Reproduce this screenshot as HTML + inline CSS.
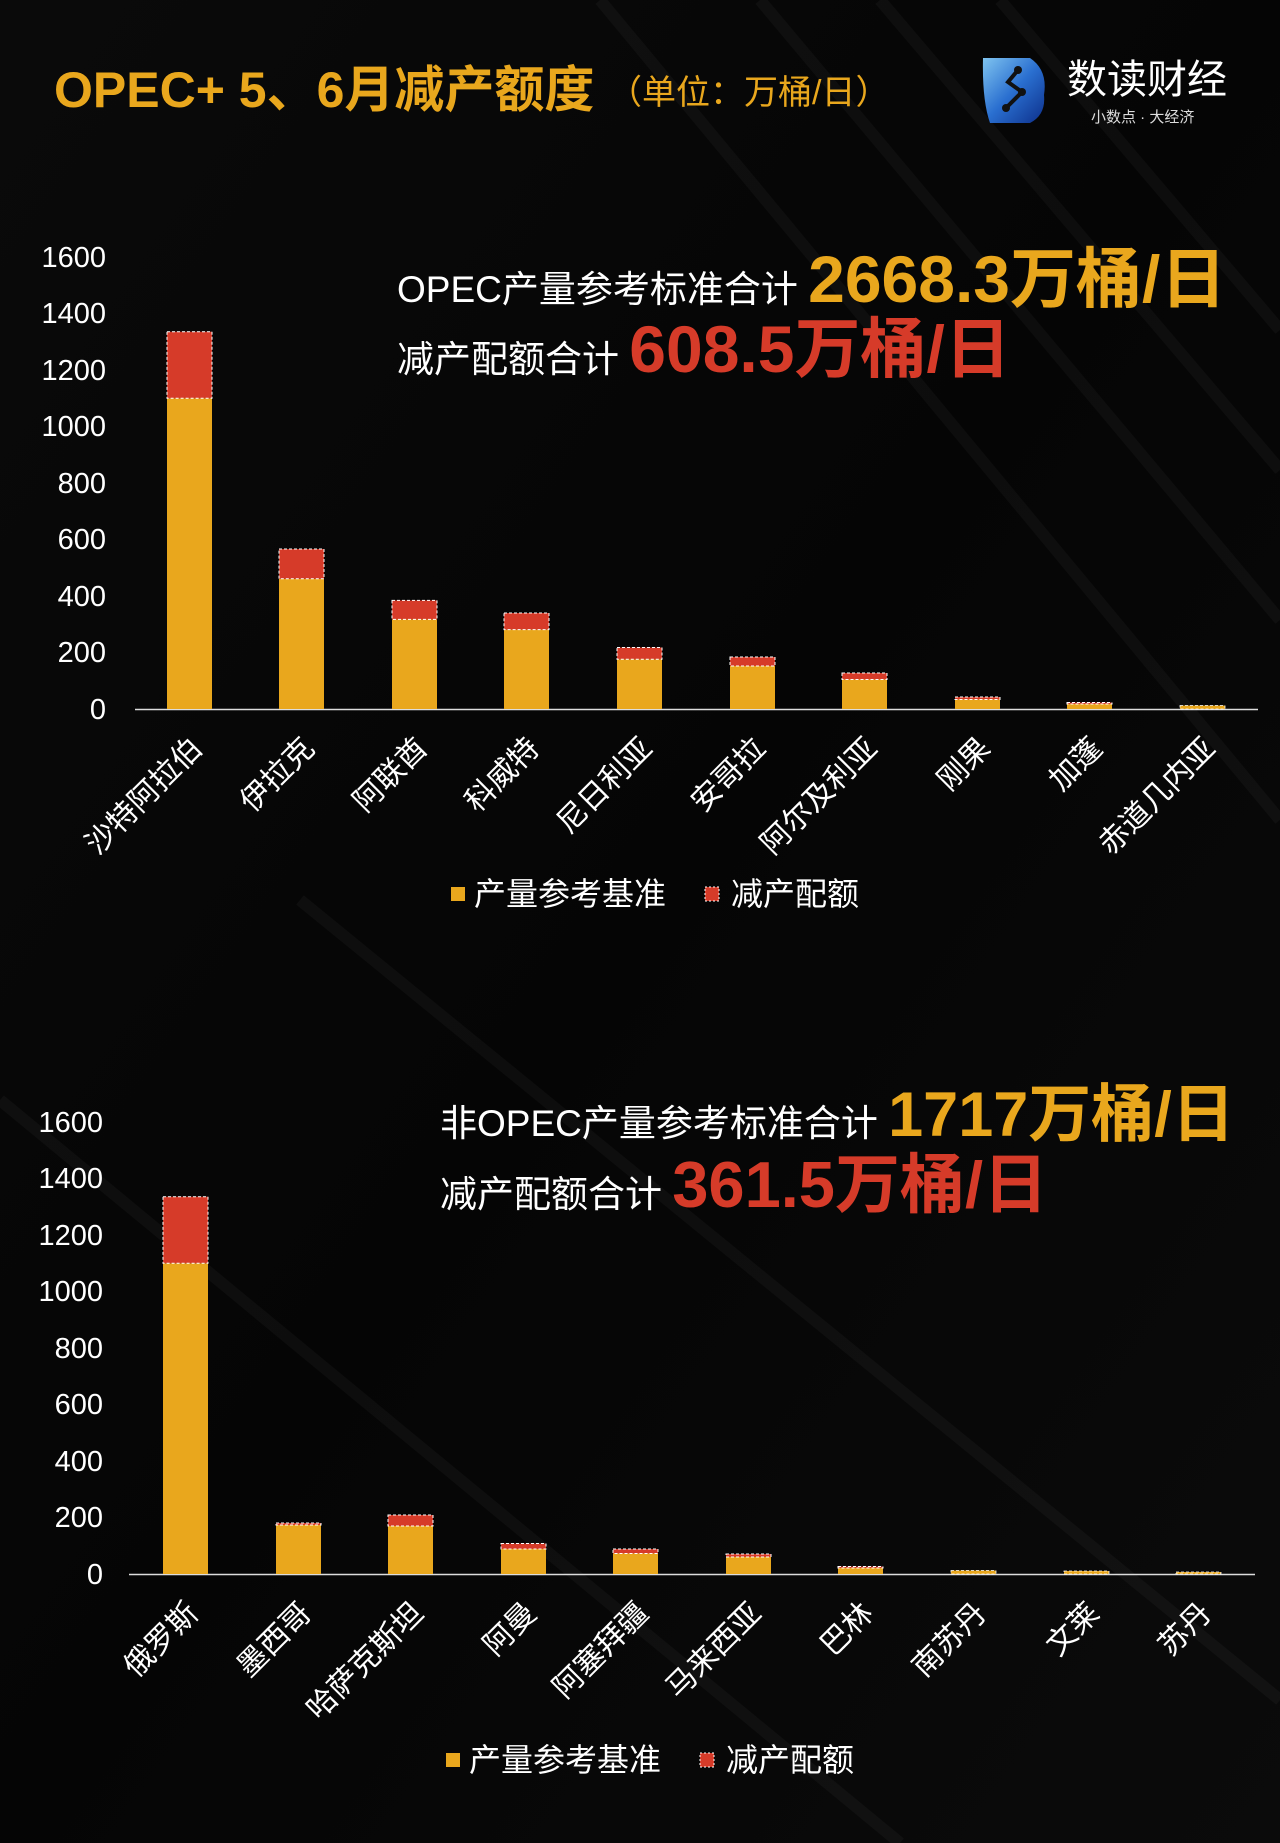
<!DOCTYPE html>
<html><head><meta charset="utf-8"><style>
html,body{margin:0;padding:0;background:#050505;}
svg{display:block;font-family:"Liberation Sans","Noto Sans CJK SC",sans-serif;}
</style></head><body>
<svg width="1280" height="1843" viewBox="0 0 1280 1843" xmlns="http://www.w3.org/2000/svg">
<defs>
<linearGradient id="bg" x1="0" y1="0" x2="1" y2="1">
<stop offset="0" stop-color="#0a0a0a"/><stop offset="0.5" stop-color="#050505"/><stop offset="1" stop-color="#0b0b0b"/>
</linearGradient>
<linearGradient id="logo" x1="0" y1="0" x2="1" y2="1">
<stop offset="0" stop-color="#7fc4f0"/><stop offset="0.5" stop-color="#2a6fd0"/><stop offset="1" stop-color="#0d2f8a"/>
</linearGradient>
</defs>
<rect width="1280" height="1843" fill="url(#bg)"/>
<g stroke="#ffffff" stroke-opacity="0.035" stroke-width="12">
<line x1="760" y1="0" x2="1280" y2="620"/>
<line x1="880" y1="0" x2="1280" y2="470"/>
<line x1="1000" y1="0" x2="1280" y2="330"/>
<line x1="600" y1="0" x2="1280" y2="820"/>
<line x1="300" y1="900" x2="1280" y2="1700"/>
<line x1="0" y1="1100" x2="900" y2="1843"/>
</g>
<text x="54" y="107" font-size="50" font-weight="bold" fill="#E9A71D">OPEC+ 5、6月减产额度</text>
<text x="608" y="104" font-size="34" fill="#E9A71D">（单位：万桶/日）</text>
<path d="M983 58 L1030 58 Q1048 70 1044 95 Q1046 115 1030 123 L990 123 Q982 100 983 58Z" fill="url(#logo)"/>
<path d="M1018 70 L1008 82 L1022 92 L1006 108" stroke="#111" stroke-width="4" fill="none"/>
<circle cx="1018" cy="70" r="4" fill="#111"/><circle cx="1022" cy="92" r="4" fill="#111"/><circle cx="1006" cy="108" r="4" fill="#111"/>
<text x="1067" y="93" font-size="40" fill="#fff">数读财经</text>
<text x="1091" y="122" font-size="15" fill="#ddd">小数点 · 大经济</text>

<g font-size="29" fill="#fff" text-anchor="end">
<text x="106" y="719">0</text><text x="106" y="662">200</text><text x="106" y="606">400</text><text x="106" y="549">600</text><text x="106" y="493">800</text><text x="106" y="436">1000</text><text x="106" y="380">1200</text><text x="106" y="323">1400</text><text x="106" y="267">1600</text>
</g>
<line x1="135" y1="709.5" x2="1258" y2="709.5" stroke="#ddd" stroke-width="1.5"/>
<text x="397" y="302" font-size="37" fill="#fff">OPEC产量参考标准合计 <tspan font-size="66" font-weight="bold" fill="#E9A71D">2668.3万桶/日</tspan></text>
<text x="397" y="372" font-size="37" fill="#fff">减产配额合计 <tspan font-size="66" font-weight="bold" fill="#D63B29">608.5万桶/日</tspan></text>
<rect x="451" y="887" width="14" height="14" fill="#E9A71D"/>
<text x="474" y="905" font-size="32" fill="#fff">产量参考基准</text>
<rect x="705" y="887" width="14" height="14" fill="#D63B29" stroke="#fff" stroke-dasharray="2,2" stroke-width="1"/>
<text x="731" y="905" font-size="32" fill="#fff">减产配额</text>

<g font-size="29" fill="#fff" text-anchor="end">
<text x="103" y="1584">0</text><text x="103" y="1527">200</text><text x="103" y="1471">400</text><text x="103" y="1414">600</text><text x="103" y="1358">800</text><text x="103" y="1301">1000</text><text x="103" y="1245">1200</text><text x="103" y="1188">1400</text><text x="103" y="1132">1600</text>
</g>
<line x1="129" y1="1574.5" x2="1255" y2="1574.5" stroke="#ddd" stroke-width="1.5"/>
<text x="440" y="1136" font-size="37" fill="#fff">非OPEC产量参考标准合计 <tspan font-size="63" font-weight="bold" fill="#E9A71D">1717万桶/日</tspan></text>
<text x="440" y="1207" font-size="37" fill="#fff">减产配额合计 <tspan font-size="65" font-weight="bold" fill="#D63B29">361.5万桶/日</tspan></text>
<rect x="446" y="1753" width="14" height="14" fill="#E9A71D"/>
<text x="469" y="1771" font-size="32" fill="#fff">产量参考基准</text>
<rect x="700" y="1753" width="14" height="14" fill="#D63B29" stroke="#fff" stroke-dasharray="2,2" stroke-width="1"/>
<text x="726" y="1771" font-size="32" fill="#fff">减产配额</text>

<g>
<rect x="167" y="398.3" width="45" height="310.7" fill="#E9A71D"/><rect x="167" y="331.7" width="45" height="66.6" fill="#D63B29" stroke="#fff" stroke-dasharray="3,2" stroke-width="1"/>
<rect x="279" y="578.8" width="45" height="130.2" fill="#E9A71D"/><rect x="279" y="549.0" width="45" height="29.8" fill="#D63B29" stroke="#fff" stroke-dasharray="3,2" stroke-width="1"/>
<rect x="392" y="619.4" width="45" height="89.6" fill="#E9A71D"/><rect x="392" y="600.4" width="45" height="19.0" fill="#D63B29" stroke="#fff" stroke-dasharray="3,2" stroke-width="1"/>
<rect x="504" y="629.6" width="45" height="79.4" fill="#E9A71D"/><rect x="504" y="613.0" width="45" height="16.6" fill="#D63B29" stroke="#fff" stroke-dasharray="3,2" stroke-width="1"/>
<rect x="617" y="659.3" width="45" height="49.7" fill="#E9A71D"/><rect x="617" y="647.5" width="45" height="11.8" fill="#D63B29" stroke="#fff" stroke-dasharray="3,2" stroke-width="1"/>
<rect x="730" y="666.0" width="45" height="43.0" fill="#E9A71D"/><rect x="730" y="657.0" width="45" height="9.0" fill="#D63B29" stroke="#fff" stroke-dasharray="3,2" stroke-width="1"/>
<rect x="842" y="679.5" width="45" height="29.5" fill="#E9A71D"/><rect x="842" y="673.0" width="45" height="6.5" fill="#D63B29" stroke="#fff" stroke-dasharray="3,2" stroke-width="1"/>
<rect x="955" y="699.5" width="45" height="9.5" fill="#E9A71D"/><rect x="955" y="697.0" width="45" height="2.5" fill="#D63B29" stroke="#fff" stroke-dasharray="3,2" stroke-width="1"/>
<rect x="1067" y="704" width="45" height="5" fill="#E9A71D"/><rect x="1067" y="702.5" width="45" height="1.5" fill="#D63B29" stroke="#fff" stroke-dasharray="3,2" stroke-width="1"/>
<rect x="1180" y="705.5" width="45" height="3.5" fill="#E9A71D" stroke="#fff" stroke-dasharray="3,2" stroke-width="0.8"/>
</g>
<g font-size="30" fill="#fff" text-anchor="end">
<text transform="translate(204,750) rotate(-45)">沙特阿拉伯</text>
<text transform="translate(316,750) rotate(-45)">伊拉克</text>
<text transform="translate(429,750) rotate(-45)">阿联酋</text>
<text transform="translate(541,750) rotate(-45)">科威特</text>
<text transform="translate(654,750) rotate(-45)">尼日利亚</text>
<text transform="translate(767,750) rotate(-45)">安哥拉</text>
<text transform="translate(879,750) rotate(-45)">阿尔及利亚</text>
<text transform="translate(992,750) rotate(-45)">刚果</text>
<text transform="translate(1104,750) rotate(-45)">加蓬</text>
<text transform="translate(1217,750) rotate(-45)">赤道几内亚</text>
</g>

<g>
<rect x="163" y="1263.3" width="45" height="310.7" fill="#E9A71D"/><rect x="163" y="1196.7" width="45" height="66.6" fill="#D63B29" stroke="#fff" stroke-dasharray="3,2" stroke-width="1"/>
<rect x="276" y="1525" width="45" height="49" fill="#E9A71D"/><rect x="276" y="1523" width="45" height="2" fill="#D63B29" stroke="#fff" stroke-dasharray="3,2" stroke-width="1"/>
<rect x="388" y="1526" width="45" height="48" fill="#E9A71D"/><rect x="388" y="1515" width="45" height="11" fill="#D63B29" stroke="#fff" stroke-dasharray="3,2" stroke-width="1"/>
<rect x="501" y="1549" width="45" height="25" fill="#E9A71D"/><rect x="501" y="1543.5" width="45" height="5.5" fill="#D63B29" stroke="#fff" stroke-dasharray="3,2" stroke-width="1"/>
<rect x="613" y="1553.5" width="45" height="20.5" fill="#E9A71D"/><rect x="613" y="1549" width="45" height="4.5" fill="#D63B29" stroke="#fff" stroke-dasharray="3,2" stroke-width="1"/>
<rect x="726" y="1557" width="45" height="17" fill="#E9A71D"/><rect x="726" y="1554" width="45" height="3" fill="#D63B29" stroke="#fff" stroke-dasharray="3,2" stroke-width="1"/>
<rect x="838" y="1568" width="45" height="6" fill="#E9A71D"/><rect x="838" y="1566.5" width="45" height="1.5" fill="#D63B29" stroke="#fff" stroke-dasharray="3,2" stroke-width="1"/>
<rect x="951" y="1570.5" width="45" height="3.5" fill="#E9A71D" stroke="#fff" stroke-dasharray="3,2" stroke-width="0.8"/>
<rect x="1064" y="1571" width="45" height="3" fill="#E9A71D" stroke="#fff" stroke-dasharray="3,2" stroke-width="0.8"/>
<rect x="1176" y="1572" width="45" height="2" fill="#E9A71D" stroke="#fff" stroke-dasharray="3,2" stroke-width="0.8"/>
</g>
<g font-size="30" fill="#fff" text-anchor="end">
<text transform="translate(200,1615) rotate(-45)">俄罗斯</text>
<text transform="translate(313,1615) rotate(-45)">墨西哥</text>
<text transform="translate(425,1615) rotate(-45)">哈萨克斯坦</text>
<text transform="translate(538,1615) rotate(-45)">阿曼</text>
<text transform="translate(650,1615) rotate(-45)">阿塞拜疆</text>
<text transform="translate(763,1615) rotate(-45)">马来西亚</text>
<text transform="translate(875,1615) rotate(-45)">巴林</text>
<text transform="translate(988,1615) rotate(-45)">南苏丹</text>
<text transform="translate(1101,1615) rotate(-45)">文莱</text>
<text transform="translate(1213,1615) rotate(-45)">苏丹</text>
</g>
</svg>
</body></html>
